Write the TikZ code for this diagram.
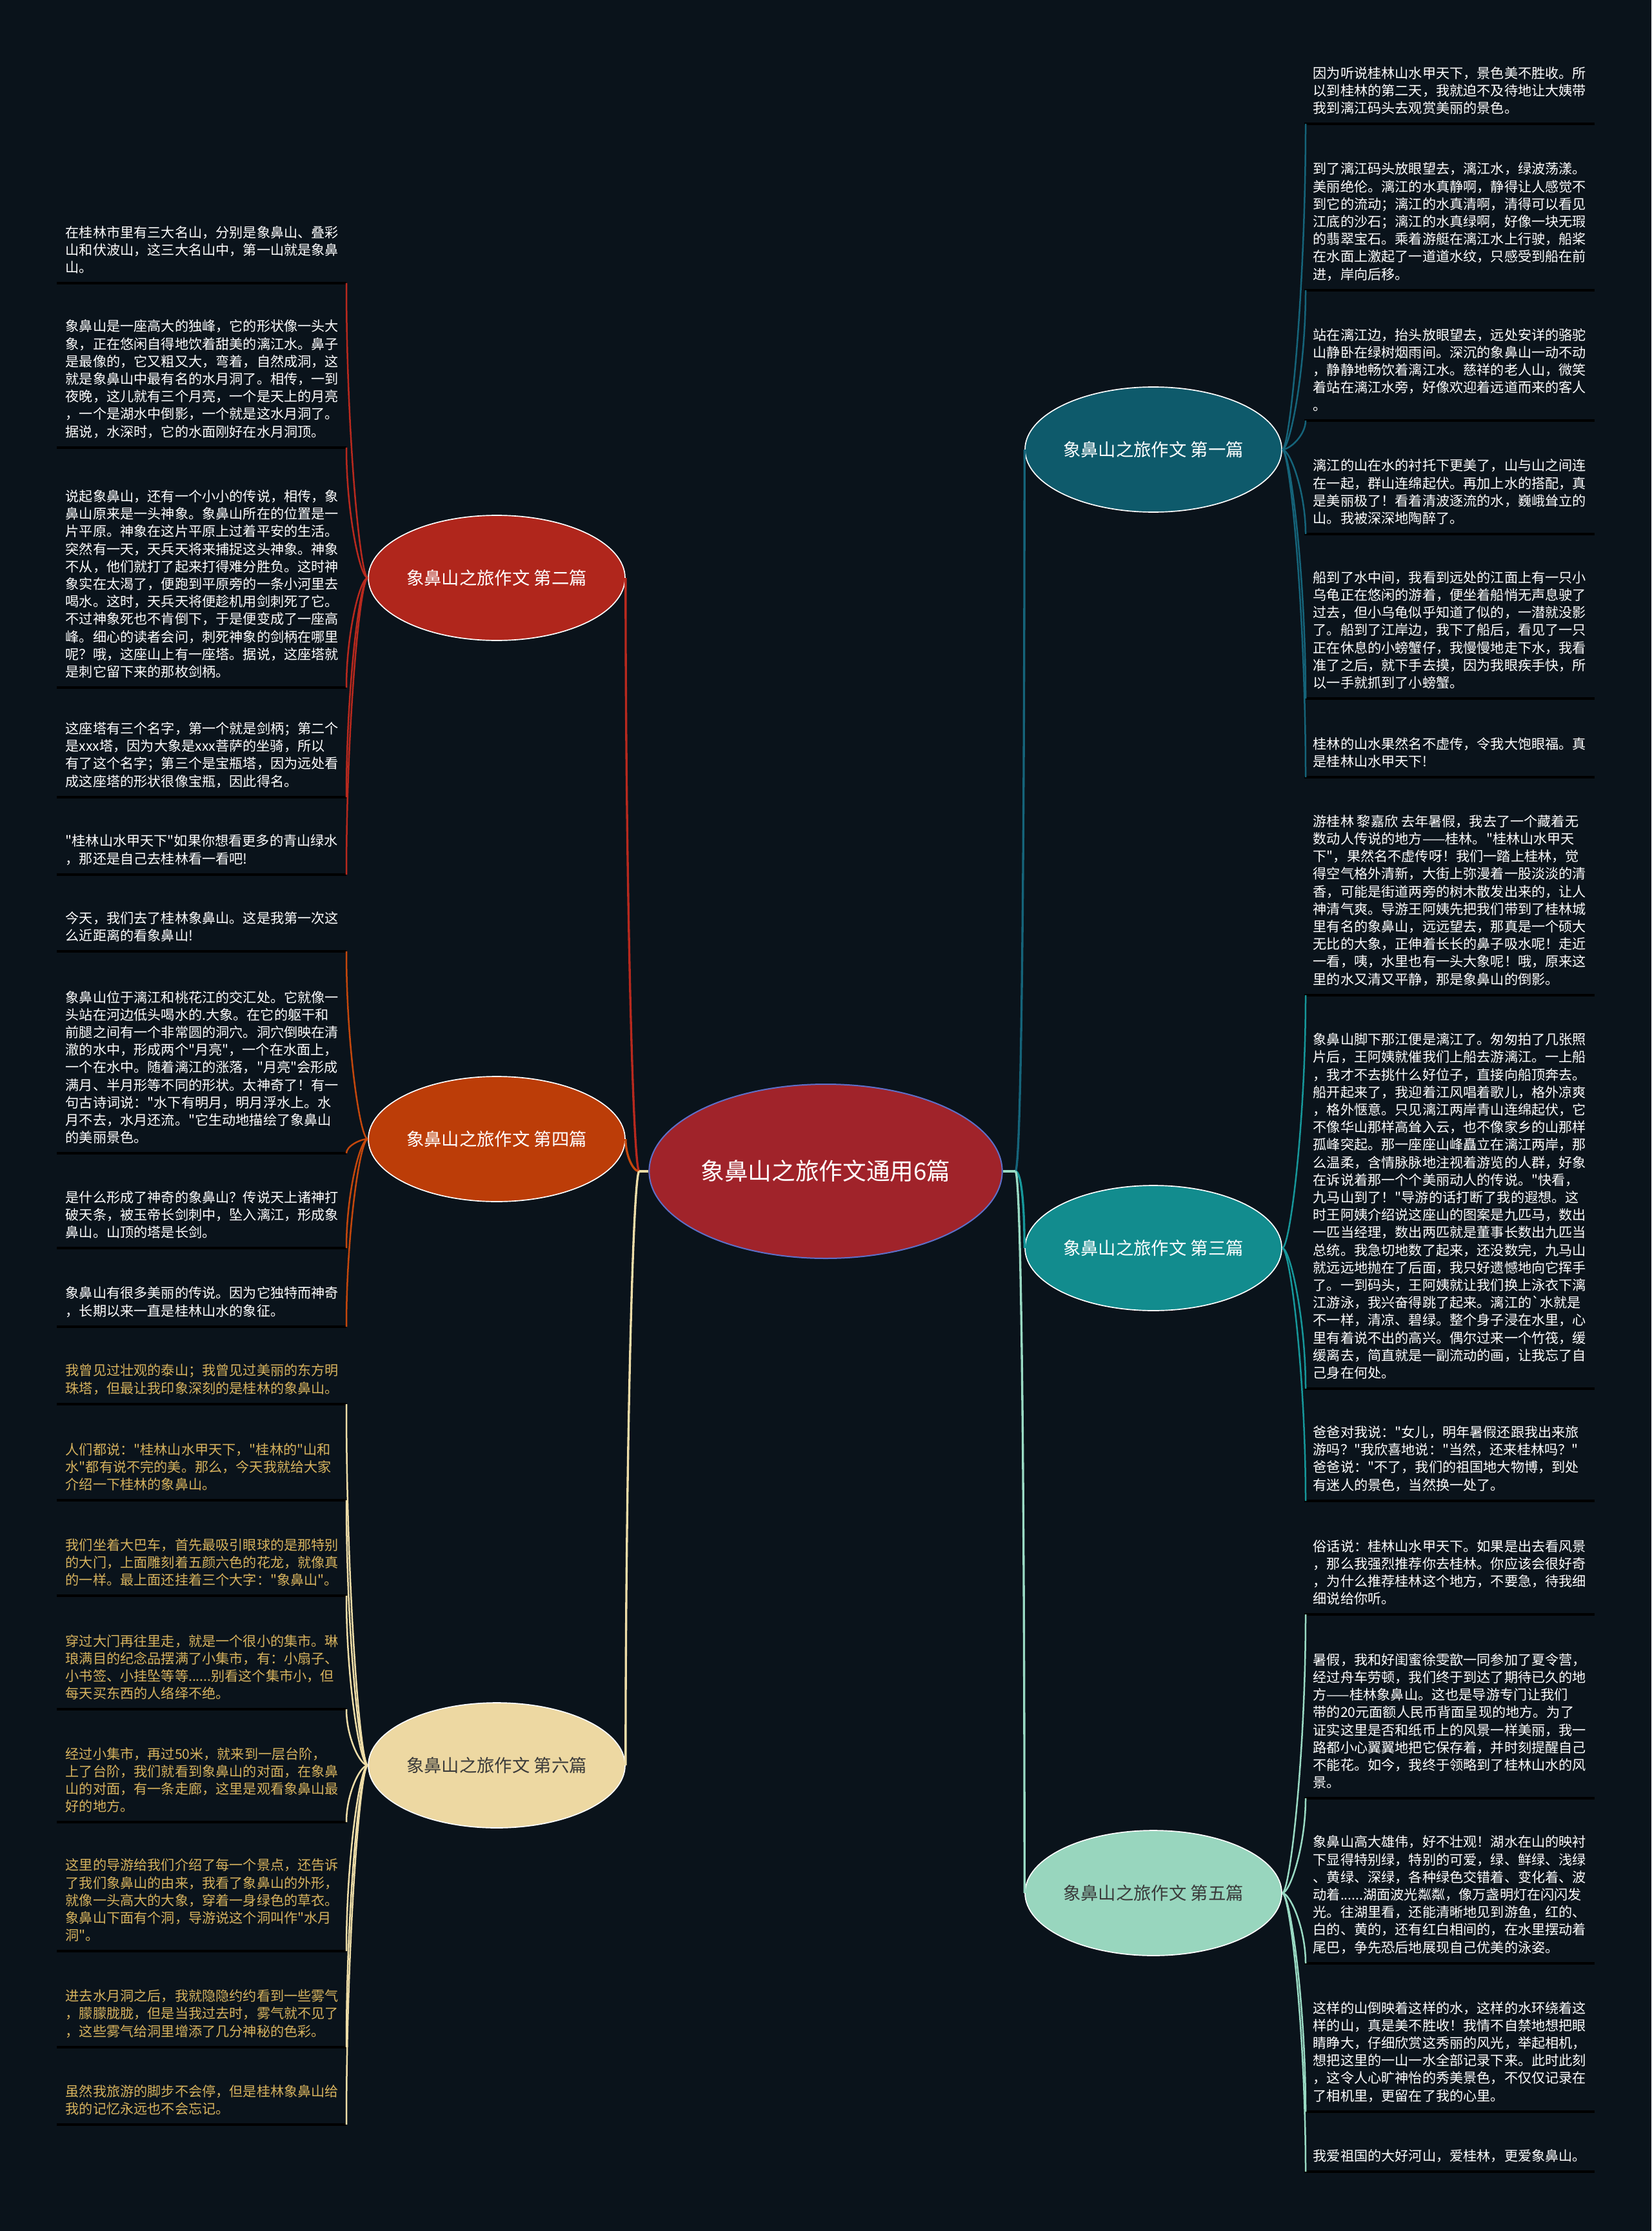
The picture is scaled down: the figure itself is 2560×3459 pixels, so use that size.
\documentclass[tikz,border=0pt]{standalone}
\usepackage{fontspec}
\newfontfamily\cjkfont{Noto Sans CJK SC}
\usetikzlibrary{shapes.geometric,calc}
\definecolor{bgc}{HTML}{0A131B}
\definecolor{cRed}{HTML}{B8291E}
\definecolor{cOrg}{HTML}{C4470C}
\definecolor{cCream}{HTML}{EEDDA8}
\definecolor{cDteal}{HTML}{15647A}
\definecolor{cTeal}{HTML}{16979A}
\definecolor{cMint}{HTML}{9ADBC4}
\definecolor{fRed}{HTML}{B0261C}
\definecolor{fOrg}{HTML}{BC3D08}
\definecolor{fCream}{HTML}{EDD8A2}
\definecolor{fDteal}{HTML}{0E5A6B}
\definecolor{fTeal}{HTML}{128C8E}
\definecolor{fMint}{HTML}{98D6BE}
\definecolor{fCenter}{HTML}{A0232A}
\definecolor{bCenter}{HTML}{5E6FC8}
\definecolor{goldtext}{HTML}{D7B35E}
\definecolor{darktext}{HTML}{3A3A3A}
\tikzset{
  leaftext/.style={font={\cjkfont\fontsize{6.35pt}{8.16pt}\selectfont}, align=left, inner sep=0pt, text=white},
  goldleaf/.style={text=goldtext},
  whiteleaf/.style={text=white},
  uline/.style={draw=black, line width=1.3pt},
  conn/.style={line width=0.75pt},
  cline/.style={line width=1pt},
  branch/.style={ellipse, draw=white, line width=0.5pt, minimum width=119.4pt, minimum height=58.2pt, inner sep=0pt, font={\cjkfont\fontsize{8.2pt}{10pt}\selectfont}},
  hub/.style={ellipse, draw=bCenter, fill=fCenter, line width=0.6pt, minimum width=162.6pt, minimum height=81pt, inner sep=0pt, text=white, font={\cjkfont\fontsize{11pt}{13pt}\selectfont}},
}
\newcommand{\leafL}[4]{\draw[uline] (88,#2) -- (537,#2); \node[leaftext,#3,anchor=south west] (#1) at (101,#2-14) {#4}; \coordinate (#1e) at (537,#2);}
\newcommand{\leafR}[4]{\draw[uline] (2022,#2) -- (2472,#2); \node[leaftext,#3,anchor=south west] (#1) at (2035,#2-14) {#4}; \coordinate (#1e) at (2024,#2);}
\newcommand{\linkL}[3]{\draw[conn,draw=#1] let \p1=(#2.west), \p2=(#3) in (\p1) .. controls ($(\p1)+(-12,0)$) and (\x2,{(\y1+\y2)/2}) .. (\p2);}
\newcommand{\linkR}[3]{\draw[conn,draw=#1] let \p1=(#2.east), \p2=(#3) in (\p1) .. controls ($(\p1)+(12,0)$) and (\x2,{(\y1+\y2)/2}) .. (\p2);}
\newcommand{\hubL}[2]{\draw[cline,draw=#1] (c.west) -- (SL); \draw[cline,draw=#1] let \p1=(SL), \p2=(#2.east) in (\p1) .. controls ($(\p1)+(-10,0)$) and (\x2,{(\y1+\y2)/2}) .. (\p2);}
\newcommand{\hubR}[2]{\draw[cline,draw=#1] (c.east) -- (SR); \draw[cline,draw=#1] let \p1=(SR), \p2=(#2.west) in (\p1) .. controls ($(\p1)+(10,0)$) and (\x2,{(\y1+\y2)/2}) .. (\p2);}
\begin{document}
\begin{tikzpicture}[x=0.3pt,y=-0.3pt]
\fill[bgc] (0,0) rectangle (2560,3459);
\useasboundingbox (0,0) rectangle (2560,3459);

% central and branch nodes
\node[hub] (c) at (1280,1816) {象鼻山之旅作文通用6篇};
\coordinate (SL) at (991,1816);
\coordinate (SR) at (1574,1816);
\node[branch,fill=fRed,text=white] (b2) at (770,896) {象鼻山之旅作文 第二篇};
\node[branch,fill=fOrg,text=white] (b4) at (770,1766) {象鼻山之旅作文 第四篇};
\node[branch,fill=fCream,text=darktext] (b6) at (770,2737) {象鼻山之旅作文 第六篇};
\node[branch,fill=fDteal,text=white] (b1) at (1788,697) {象鼻山之旅作文 第一篇};
\node[branch,fill=fTeal,text=white] (b3) at (1788,1935) {象鼻山之旅作文 第三篇};
\node[branch,fill=fMint,text=darktext] (b5) at (1788,2935) {象鼻山之旅作文 第五篇};

\hubL{cRed}{b2}
\hubL{cOrg}{b4}
\hubL{cCream}{b6}
\hubR{cDteal}{b1}
\hubR{cTeal}{b3}
\hubR{cMint}{b5}

% left leaves: 第二篇
\leafL{la}{439}{whiteleaf}{在桂林市里有三大名山，分别是象鼻山、叠彩\\山和伏波山，这三大名山中，第一山就是象鼻\\山。}
\leafL{lb}{694}{whiteleaf}{象鼻山是一座高大的独峰，它的形状像一头大\\象，正在悠闲自得地饮着甜美的漓江水。鼻子\\是最像的，它又粗又大，弯着，自然成洞，这\\就是象鼻山中最有名的水月洞了。相传，一到\\夜晚，这儿就有三个月亮，一个是天上的月亮\\，一个是湖水中倒影，一个就是这水月洞了。\\据说，水深时，它的水面刚好在水月洞顶。}
\leafL{lc}{1066}{whiteleaf}{说起象鼻山，还有一个小小的传说，相传，象\\鼻山原来是一头神象。象鼻山所在的位置是一\\片平原。神象在这片平原上过着平安的生活。\\突然有一天，天兵天将来捕捉这头神象。神象\\不从，他们就打了起来打得难分胜负。这时神\\象实在太渴了，便跑到平原旁的一条小河里去\\喝水。这时，天兵天将便趁机用剑刺死了它。\\不过神象死也不肯倒下，于是便变成了一座高\\峰。细心的读者会问，刺死神象的剑柄在哪里\\呢？哦，这座山上有一座塔。据说，这座塔就\\是刺它留下来的那枚剑柄。}
\leafL{ld}{1236}{whiteleaf}{这座塔有三个名字，第一个就是剑柄；第二个\\是xxx塔，因为大象是xxx菩萨的坐骑，所以\\有了这个名字；第三个是宝瓶塔，因为远处看\\成这座塔的形状很像宝瓶，因此得名。}
\leafL{le}{1356}{whiteleaf}{"桂林山水甲天下"如果你想看更多的青山绿水\\，那还是自己去桂林看一看吧!}
% left leaves: 第四篇
\leafL{lf}{1475}{whiteleaf}{今天，我们去了桂林象鼻山。这是我第一次这\\么近距离的看象鼻山!}
\leafL{lg}{1788}{whiteleaf}{象鼻山位于漓江和桃花江的交汇处。它就像一\\头站在河边低头喝水的.大象。在它的躯干和\\前腿之间有一个非常圆的洞穴。洞穴倒映在清\\澈的水中，形成两个"月亮"，一个在水面上，\\一个在水中。随着漓江的涨落，"月亮"会形成\\满月、半月形等不同的形状。太神奇了！有一\\句古诗词说："水下有明月，明月浮水上。水\\月不去，水月还流。"它生动地描绘了象鼻山\\的美丽景色。}
\leafL{lh}{1935}{whiteleaf}{是什么形成了神奇的象鼻山？传说天上诸神打\\破天条，被玉帝长剑刺中，坠入漓江，形成象\\鼻山。山顶的塔是长剑。}
\leafL{li}{2057}{whiteleaf}{象鼻山有很多美丽的传说。因为它独特而神奇\\，长期以来一直是桂林山水的象征。}
% left leaves: 第六篇
\leafL{lj}{2177}{goldleaf}{我曾见过壮观的泰山；我曾见过美丽的东方明\\珠塔，但最让我印象深刻的是桂林的象鼻山。}
\leafL{lk}{2326}{goldleaf}{人们都说："桂林山水甲天下，"桂林的"山和\\水"都有说不完的美。那么，今天我就给大家\\介绍一下桂林的象鼻山。}
\leafL{ll}{2474}{goldleaf}{我们坐着大巴车，首先最吸引眼球的是那特别\\的大门，上面雕刻着五颜六色的花龙，就像真\\的一样。最上面还挂着三个大字："象鼻山"。}
\leafL{lm}{2650}{goldleaf}{穿过大门再往里走，就是一个很小的集市。琳\\琅满目的纪念品摆满了小集市，有：小扇子、\\小书签、小挂坠等等......别看这个集市小，但\\每天买东西的人络绎不绝。}
\leafL{ln}{2825}{goldleaf}{经过小集市，再过50米，就来到一层台阶，\\上了台阶，我们就看到象鼻山的对面，在象鼻\\山的对面，有一条走廊，这里是观看象鼻山最\\好的地方。}
\leafL{lo}{3025}{goldleaf}{这里的导游给我们介绍了每一个景点，还告诉\\了我们象鼻山的由来，我看了象鼻山的外形，\\就像一头高大的大象，穿着一身绿色的草衣。\\象鼻山下面有个洞，导游说这个洞叫作"水月\\洞"。}
\leafL{lp}{3174}{goldleaf}{进去水月洞之后，我就隐隐约约看到一些雾气\\，朦朦胧胧，但是当我过去时，雾气就不见了\\，这些雾气给洞里增添了几分神秘的色彩。}
\leafL{lq}{3294}{goldleaf}{虽然我旅游的脚步不会停，但是桂林象鼻山给\\我的记忆永远也不会忘记。}

% right leaves: 第一篇
\leafR{ra}{192}{whiteleaf}{因为听说桂林山水甲天下，景色美不胜收。所\\以到桂林的第二天，我就迫不及待地让大姨带\\我到漓江码头去观赏美丽的景色。}
\leafR{rb}{450}{whiteleaf}{到了漓江码头放眼望去，漓江水，绿波荡漾。\\美丽绝伦。漓江的水真静啊，静得让人感觉不\\到它的流动；漓江的水真清啊，清得可以看见\\江底的沙石；漓江的水真绿啊，好像一块无瑕\\的翡翠宝石。乘着游艇在漓江水上行驶，船桨\\在水面上激起了一道道水纹，只感受到船在前\\进，岸向后移。}
\leafR{rc}{652}{whiteleaf}{站在漓江边，抬头放眼望去，远处安详的骆驼\\山静卧在绿树烟雨间。深沉的象鼻山一动不动\\，静静地畅饮着漓江水。慈祥的老人山，微笑\\着站在漓江水旁，好像欢迎着远道而来的客人\\。}
\leafR{rd}{828}{whiteleaf}{漓江的山在水的衬托下更美了，山与山之间连\\在一起，群山连绵起伏。再加上水的搭配，真\\是美丽极了！看着清波逐流的水，巍峨耸立的\\山。我被深深地陶醉了。}
\leafR{re}{1083}{whiteleaf}{船到了水中间，我看到远处的江面上有一只小\\乌龟正在悠闲的游着，便坐着船悄无声息驶了\\过去，但小乌龟似乎知道了似的，一潜就没影\\了。船到了江岸边，我下了船后，看见了一只\\正在休息的小螃蟹仔，我慢慢地走下水，我看\\准了之后，就下手去摸，因为我眼疾手快，所\\以一手就抓到了小螃蟹。}
\leafR{rf}{1205}{whiteleaf}{桂林的山水果然名不虚传，令我大饱眼福。真\\是桂林山水甲天下!}
% right leaves: 第三篇
\leafR{rg}{1543}{whiteleaf}{游桂林 黎嘉欣 去年暑假，我去了一个藏着无\\数动人传说的地方——桂林。"桂林山水甲天\\下"，果然名不虚传呀！我们一踏上桂林，觉\\得空气格外清新，大街上弥漫着一股淡淡的清\\香，可能是街道两旁的树木散发出来的，让人\\神清气爽。导游王阿姨先把我们带到了桂林城\\里有名的象鼻山，远远望去，那真是一个硕大\\无比的大象，正伸着长长的鼻子吸水呢！走近\\一看，咦，水里也有一头大象呢！哦，原来这\\里的水又清又平静，那是象鼻山的倒影。}
\leafR{rh}{2153}{whiteleaf}{象鼻山脚下那江便是漓江了。匆匆拍了几张照\\片后，王阿姨就催我们上船去游漓江。一上船\\，我才不去挑什么好位子，直接向船顶奔去。\\船开起来了，我迎着江风唱着歌儿，格外凉爽\\，格外惬意。只见漓江两岸青山连绵起伏，它\\不像华山那样高耸入云，也不像家乡的山那样\\孤峰突起。那一座座山峰矗立在漓江两岸，那\\么温柔，含情脉脉地注视着游览的人群，好象\\在诉说着那一个个美丽动人的传说。"快看，\\九马山到了！"导游的话打断了我的遐想。这\\时王阿姨介绍说这座山的图案是九匹马，数出\\一匹当经理，数出两匹就是董事长数出九匹当\\总统。我急切地数了起来，还没数完，九马山\\就远远地抛在了后面，我只好遗憾地向它挥手\\了。一到码头，王阿姨就让我们换上泳衣下漓\\江游泳，我兴奋得跳了起来。漓江的`水就是\\不一样，清凉、碧绿。整个身子浸在水里，心\\里有着说不出的高兴。偶尔过来一个竹筏，缓\\缓离去，简直就是一副流动的画，让我忘了自\\己身在何处。}
\leafR{ri}{2327}{whiteleaf}{爸爸对我说："女儿，明年暑假还跟我出来旅\\游吗？"我欣喜地说："当然，还来桂林吗？"\\爸爸说："不了，我们的祖国地大物博，到处\\有迷人的景色，当然换一处了。}
% right leaves: 第五篇
\leafR{rj}{2503}{whiteleaf}{俗话说：桂林山水甲天下。如果是出去看风景\\，那么我强烈推荐你去桂林。你应该会很好奇\\，为什么推荐桂林这个地方，不要急，待我细\\细说给你听。}
\leafR{rk}{2788}{whiteleaf}{暑假，我和好闺蜜徐雯歆一同参加了夏令营，\\经过舟车劳顿，我们终于到达了期待已久的地\\方——桂林象鼻山。这也是导游专门让我们\\带的20元面额人民币背面呈现的地方。为了\\证实这里是否和纸币上的风景一样美丽，我一\\路都小心翼翼地把它保存着，并时刻提醒自己\\不能花。如今，我终于领略到了桂林山水的风\\景。}
\leafR{rl}{3044}{whiteleaf}{象鼻山高大雄伟，好不壮观！湖水在山的映衬\\下显得特别绿，特别的可爱，绿、鲜绿、浅绿\\、黄绿、深绿，各种绿色交错着、变化着、波\\动着......湖面波光粼粼，像万盏明灯在闪闪发\\光。往湖里看，还能清晰地见到游鱼，红的、\\白的、黄的，还有红白相间的，在水里摆动着\\尾巴，争先恐后地展现自己优美的泳姿。}
\leafR{rm}{3274}{whiteleaf}{这样的山倒映着这样的水，这样的水环绕着这\\样的山，真是美不胜收！我情不自禁地想把眼\\睛睁大，仔细欣赏这秀丽的风光，举起相机，\\想把这里的一山一水全部记录下来。此时此刻\\，这令人心旷神怡的秀美景色，不仅仅记录在\\了相机里，更留在了我的心里。}
\leafR{rn}{3367}{whiteleaf}{我爱祖国的大好河山，爱桂林，更爱象鼻山。}

% branch to leaf connectors
\linkL{cRed}{b2}{lae}
\linkL{cRed}{b2}{lbe}
\linkL{cRed}{b2}{lce}
\linkL{cRed}{b2}{lde}
\linkL{cRed}{b2}{lee}
\linkL{cOrg}{b4}{lfe}
\linkL{cOrg}{b4}{lge}
\linkL{cOrg}{b4}{lhe}
\linkL{cOrg}{b4}{lie}
\linkL{cCream}{b6}{lje}
\linkL{cCream}{b6}{lke}
\linkL{cCream}{b6}{lle}
\linkL{cCream}{b6}{lme}
\linkL{cCream}{b6}{lne}
\linkL{cCream}{b6}{loe}
\linkL{cCream}{b6}{lpe}
\linkL{cCream}{b6}{lqe}
\linkR{cDteal}{b1}{rae}
\linkR{cDteal}{b1}{rbe}
\linkR{cDteal}{b1}{rce}
\linkR{cDteal}{b1}{rde}
\linkR{cDteal}{b1}{ree}
\linkR{cDteal}{b1}{rfe}
\linkR{cTeal}{b3}{rge}
\linkR{cTeal}{b3}{rhe}
\linkR{cTeal}{b3}{rie}
\linkR{cMint}{b5}{rje}
\linkR{cMint}{b5}{rke}
\linkR{cMint}{b5}{rle}
\linkR{cMint}{b5}{rme}
\linkR{cMint}{b5}{rne}
\end{tikzpicture}
\end{document}
